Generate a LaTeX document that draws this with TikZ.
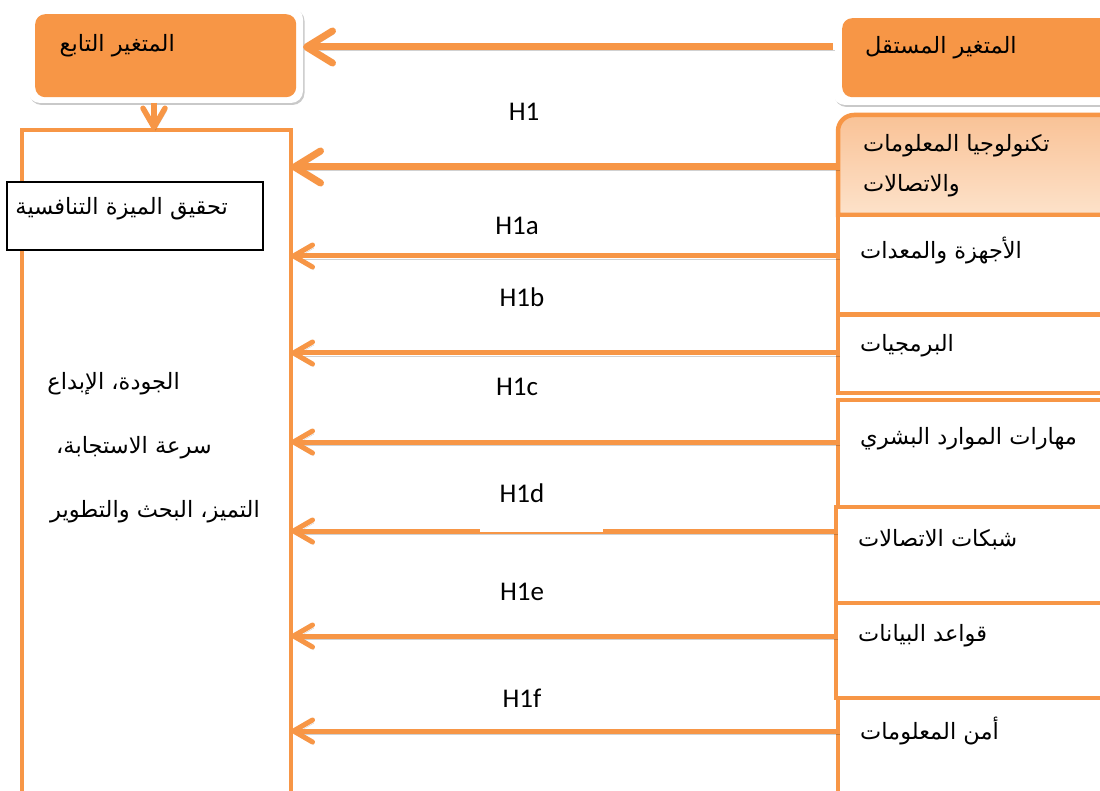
\documentclass[tikz,border=0pt]{standalone}
\usepackage{fontspec}
\newfontfamily\arabicfont[Script=Arabic]{DejaVu Sans}
\newfontfamily\hfont{Carlito}
\TeXXeTstate=1
\usetikzlibrary{arrows.meta,shadows}
\definecolor{org}{HTML}{F79646}
\definecolor{ictTop}{RGB}{249,194,150}
\definecolor{ictBot}{RGB}{253,226,202}
\begin{document}
\begin{tikzpicture}[x=1pt,y=-1pt,
  ar/.style={font=\arabicfont\fontsize{22.5}{40}\selectfont, inner sep=0, text=black},
  hl/.style={font=\hfont\fontsize{27}{30}\selectfont, inner sep=0},
  shd/.style={preaction={draw=black, opacity=0.18, transform canvas={shift={(1.5,3)}}}},
  mainarrow/.style={draw=org, line width=7, shd, -{Straight Barb[round,length=26,width=32]}},
  subarrow/.style={draw=org, line width=5, shd, -{Straight Barb[round,length=19,width=22]}},
  outerbox/.style={fill=white, rounded corners=12, drop shadow={shadow xshift=1.5pt, shadow yshift=-2pt, opacity=0.35, fill=black!60}},
  innerbox/.style={fill=org, rounded corners=10},
  rowbox/.style={draw=org, line width=4.5, fill=white, outer sep=0, anchor=north west, minimum width=290},
]
\clip (0,0) rectangle (1100,791);
\fill[white] (0,0) rectangle (1100,791);

% top-left box (dependent variable)
\node[outerbox, anchor=north west, minimum width=275, minimum height=96, outer sep=0] (tl) at (28,7) {};
\node[innerbox, anchor=north west, minimum width=261, minimum height=83] (tlin) at (35,14) {};
\node[ar, anchor=east] (tltxt) at (175,46) {\beginR المتغير التابع\endR};

% top-right box (independent variable)
\node[outerbox, anchor=north west, minimum width=300, minimum height=95, outer sep=0] (tr) at (833,10) {};
\node[innerbox, anchor=north west, minimum width=290, minimum height=79] (trin) at (842,18) {};
\node[ar, anchor=west] (trtxt) at (865,48) {\beginR المتغير المستقل\endR};

% big left box
\node[draw=org, line width=4.5, outer sep=0, anchor=north west, minimum width=269, minimum height=720] (big) at (22,130) {};
\node[draw=black, line width=1.3, fill=white, anchor=north west, minimum width=256, minimum height=68, outer sep=0] (cabox) at (7,182) {};
\node[ar, anchor=east] (catxt) at (228,209) {\beginR تحقيق الميزة التنافسية\endR};
\node[ar, anchor=east] (q1) at (180,384) {\beginR الجودة، الإبداع\endR};
\node[ar, anchor=east] (q2) at (212,448) {\beginR سرعة الاستجابة،\endR};
\node[ar, anchor=east] (q3) at (260,512) {\beginR التميز، البحث والتطوير\endR};

% right column
\draw[draw=org, line width=4.5, top color=ictTop, bottom color=ictBot, shd]
  (838,215) [rounded corners=16] -- (838,115) [sharp corners] -- (1120,115) -- (1120,215) -- cycle;
\coordinate (ict) at (838,167);
\node[ar, anchor=west, align=left] (icttxt) at (863,166) {\beginR تكنولوجيا المعلومات\endR\\\beginR والاتصالات\endR};

\node[rowbox, minimum height=99] (r1) at (838,215) {};
\node[rowbox, minimum height=78] (r2) at (838,315) {};
\node[rowbox, minimum height=107] (r3) at (838,400) {};
\node[rowbox, minimum height=96] (r4) at (836,507) {};
\node[rowbox, minimum height=95] (r5) at (836,603) {};
\node[rowbox, minimum height=120] (r6) at (838,698) {};

\node[ar, anchor=west] (t1) at (860,251) {\beginR الأجهزة والمعدات\endR};
\node[ar, anchor=west] (t2) at (860,346) {\beginR البرمجيات\endR};
\node[ar, anchor=west] (t3) at (860,439) {\beginR مهارات الموارد البشري\endR};
\node[ar, anchor=west] (t4) at (858,540) {\beginR شبكات الاتصالات\endR};
\node[ar, anchor=west] (t5) at (858,636) {\beginR قواعد البيانات\endR};
\node[ar, anchor=west] (t6) at (860,731) {\beginR أمن المعلومات\endR};

% connectors
\coordinate (trw) at (tr.west |- 0,47);
\draw[mainarrow] (trw) -- (trw -| tl.east);
\coordinate (tls) at (154,103);
\draw[subarrow, line width=5.5] (tls) -- (tls |- big.north);

\draw[mainarrow] (ict) -- (ict -| big.east);
\coordinate (s1) at (838,256);
\coordinate (s2) at (838,353);
\coordinate (s3) at (838,442);
\coordinate (s4) at (836,531);
\coordinate (s5) at (836,636);
\coordinate (s6) at (838,731);
\foreach \s in {s1,s2,s3,s4,s5,s6} \draw[subarrow] (\s) -- (\s -| big.east);

% labels
\node[hl] (h1) at (524,112) {H1};
\node[hl] (h1a) at (517,226) {H1a};
\node[hl] (h1b) at (522,297) {H1b};
\node[hl] (h1c) at (517,387) {H1c};
\node[hl, fill=white, minimum width=123, minimum height=76] (h1d) at (541,493.5) {};
\node[hl] (h1dtxt) at (522,493) {H1d};
\node[hl] (h1e) at (522,592) {H1e};
\node[hl] (h1f) at (522,698) {H1f};
\end{tikzpicture}
\end{document}
